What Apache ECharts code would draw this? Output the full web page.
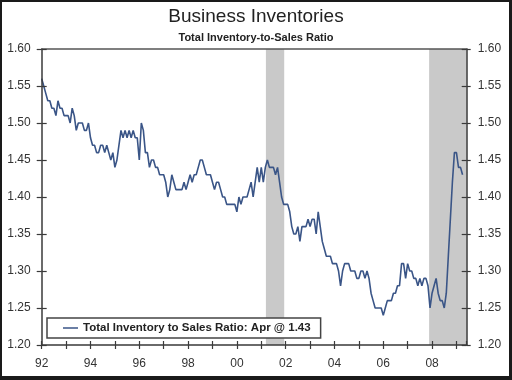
<!DOCTYPE html>
<html><head><meta charset="utf-8">
<script src="https://cdn.jsdelivr.net/npm/echarts@6/dist/echarts.min.js"></script>
<style>
html,body{margin:0;padding:0;background:#fff;}
#c{position:absolute;left:0;top:0;width:512px;height:380px;}
#frame{position:absolute;left:0;top:0;width:512px;height:380px;box-sizing:border-box;border:2px solid #1a1a1a;border-right-width:3px;border-bottom-width:4px;pointer-events:none;}
</style></head><body>
<div id="c"></div><div id="frame"></div>
<script>
// Monthly Total Inventory-to-Sales Ratio, one array per year
const v1992 = [1.56,1.55,1.54,1.53,1.53,1.52,1.52,1.51,1.53,1.52,1.52,1.51];
const v1993 = [1.51,1.51,1.50,1.52,1.51,1.49,1.50,1.50,1.50,1.49,1.49,1.50];
const v1994 = [1.48,1.47,1.47,1.46,1.46,1.47,1.47,1.46,1.47,1.46,1.45,1.46];
const v1995 = [1.44,1.45,1.47,1.49,1.48,1.49,1.48,1.49,1.48,1.49,1.48,1.48];
const v1996 = [1.45,1.50,1.49,1.46,1.46,1.44,1.45,1.45,1.44,1.44,1.43,1.43];
const v1997 = [1.43,1.42,1.40,1.41,1.43,1.42,1.41,1.41,1.41,1.41,1.42,1.41];
const v1998 = [1.42,1.43,1.42,1.43,1.43,1.44,1.45,1.45,1.44,1.43,1.43,1.43];
const v1999 = [1.42,1.41,1.42,1.42,1.41,1.40,1.40,1.39,1.39,1.39,1.39,1.39];
const v2000 = [1.38,1.40,1.39,1.40,1.40,1.40,1.41,1.42,1.40,1.42,1.44,1.42];
const v2001 = [1.44,1.42,1.44,1.45,1.44,1.44,1.44,1.43,1.44,1.42,1.40,1.39];
const v2002 = [1.39,1.39,1.38,1.36,1.35,1.35,1.36,1.34,1.36,1.36,1.36,1.37];
const v2003 = [1.36,1.37,1.37,1.35,1.38,1.36,1.34,1.33,1.32,1.32,1.32,1.31];
const v2004 = [1.31,1.31,1.30,1.28,1.30,1.31,1.31,1.31,1.30,1.30,1.30,1.29];
const v2005 = [1.29,1.30,1.30,1.29,1.30,1.29,1.27,1.26,1.25,1.25,1.25,1.25];
const v2006 = [1.24,1.25,1.26,1.26,1.26,1.27,1.27,1.28,1.28,1.31,1.31,1.29];
const v2007 = [1.31,1.30,1.30,1.29,1.29,1.28,1.29,1.28,1.29,1.29,1.28,1.25];
const v2008 = [1.27,1.28,1.29,1.27,1.26,1.26,1.25,1.27,1.32,1.37,1.42,1.46];
const v2009 = [1.46,1.44,1.44,1.43];

const startYear = 1992;
const xMin = 1992, xMax = 2009.42;
const xTickLabels = ['92','94','96','98','00','02','04','06','08'];
const yMin = 1.20, yMax = 1.60, yStep = 0.05;
// Recessions (decimal years)
const recessions = [[2001.19, 2001.94], [2007.88, 2009.42]];
const seriesName = 'Total Inventory to Sales Ratio: Apr @ 1.43';

const years = [v1992,v1993,v1994,v1995,v1996,v1997,v1998,v1999,v2000,v2001,v2002,v2003,v2004,v2005,v2006,v2007,v2008,v2009];
const data = [];
years.forEach((arr, yi) => arr.forEach((v, mi) => data.push([startYear + yi + mi / 12, v])));

const axisCol = '#3a3a3a';
const labelStyle = {fontFamily: 'Liberation Sans, Arial, sans-serif', fontSize: 12, color: '#333'};

function xLab(v) {
  const r = Math.round(v);
  if (Math.abs(v - r) > 1e-6) return '';
  const k = r - startYear;
  if (k % 2 !== 0) return '';
  return xTickLabels[k / 2] || '';
}
function yLab(v) { return v.toFixed(2); }

const chart = echarts.init(document.getElementById('c'), null, {renderer: 'canvas'});
chart.setOption({
  animation: false,
  backgroundColor: '#fff',
  title: [
    {text: 'Business Inventories', left: 'center', top: 7, padding: 0,
     textStyle: {fontFamily: 'Liberation Sans, Arial, sans-serif', fontSize: 19, fontWeight: 'normal', color: '#222'}},
    {text: 'Total Inventory-to-Sales Ratio', left: 'center', top: 32, padding: 0,
     textStyle: {fontFamily: 'Liberation Sans, Arial, sans-serif', fontSize: 11, fontWeight: 'bold', color: '#222'}}
  ],
  legend: {
    left: 47, top: 318, z: 20,
    padding: [4, 10, 4, 16],
    backgroundColor: '#fff', borderColor: '#444', borderWidth: 1.5, borderRadius: 0,
    icon: 'rect', itemWidth: 15, itemHeight: 1.5,
    textStyle: {fontFamily: 'Liberation Sans, Arial, sans-serif', fontSize: 11.5, fontWeight: 'bold', color: '#222'},
    data: [seriesName]
  },
  grid: {left: 41.7, right: 45.3, top: 49, bottom: 35, containLabel: false},
  xAxis: [
    {type: 'value', position: 'bottom', min: xMin, max: xMax, interval: 1, z: 10,
     axisLine: {show: true, lineStyle: {color: axisCol, width: 1.5}},
     axisTick: {show: true, inside: false, length: 4, lineStyle: {color: axisCol, width: 1.2}},
     axisLabel: Object.assign({margin: 13, formatter: xLab, showMaxLabel: false}, labelStyle),
     splitLine: {show: false}},
    {type: 'value', position: 'bottom', min: xMin, max: xMax, interval: 1, z: 10,
     axisLine: {show: false},
     axisTick: {show: true, inside: true, length: 4, lineStyle: {color: axisCol, width: 1.2}},
     axisLabel: {show: false}, splitLine: {show: false}},
    {type: 'value', position: 'top', min: xMin, max: xMax, z: 10,
     axisLine: {show: true, lineStyle: {color: '#555', width: 1.5}},
     axisTick: {show: false}, axisLabel: {show: false}, splitLine: {show: false}}
  ],
  yAxis: [
    {type: 'value', position: 'left', min: yMin, max: yMax, interval: yStep, z: 10,
     axisLine: {show: true, lineStyle: {color: axisCol, width: 1.5}},
     axisTick: {show: true, inside: false, length: 5, lineStyle: {color: axisCol, width: 1.2}},
     axisLabel: Object.assign({margin: 11, formatter: yLab}, labelStyle),
     splitLine: {show: false}},
    {type: 'value', position: 'right', min: yMin, max: yMax, interval: yStep, z: 10,
     axisLine: {show: true, lineStyle: {color: axisCol, width: 1.5}},
     axisTick: {show: true, inside: false, length: 4, lineStyle: {color: axisCol, width: 1.2}},
     axisLabel: Object.assign({margin: 11, formatter: yLab}, labelStyle),
     splitLine: {show: false}},
    {type: 'value', position: 'left', min: yMin, max: yMax, interval: yStep, z: 10,
     axisLine: {show: false},
     axisTick: {show: true, inside: true, length: 5, lineStyle: {color: axisCol, width: 1.2}},
     axisLabel: {show: false}, splitLine: {show: false}},
    {type: 'value', position: 'right', min: yMin, max: yMax, interval: yStep, z: 10,
     axisLine: {show: false},
     axisTick: {show: true, inside: true, length: 5, lineStyle: {color: axisCol, width: 1.2}},
     axisLabel: {show: false}, splitLine: {show: false}}
  ],
  series: [{
    name: seriesName,
    type: 'line',
    xAxisIndex: 0, yAxisIndex: 0,
    data: data,
    showSymbol: false, symbol: 'none',
    lineStyle: {color: '#3a5587', width: 1.6},
    itemStyle: {color: '#3a5587'},
    markArea: {
      silent: true,
      itemStyle: {color: '#c9c9c9'},
      data: recessions.map(r => [{xAxis: r[0]}, {xAxis: r[1]}])
    }
  }]
});
</script>
</body></html>
